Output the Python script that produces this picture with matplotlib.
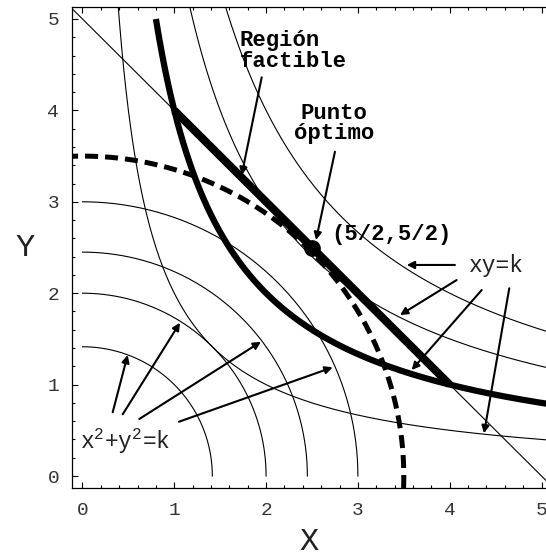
import numpy as np
import matplotlib
matplotlib.use("Agg")
import matplotlib.pyplot as plt
from matplotlib.ticker import MultipleLocator

plt.rcParams['font.family'] = ['Liberation Mono', 'DejaVu Sans']
plt.rcParams['mathtext.fontset'] = 'custom'
plt.rcParams['mathtext.rm'] = 'Liberation Mono'

# Level sets of the objective and constraint curves
hyper_thin_k = [2, 6, 8]          # xy = k, thin
hyper_thick_k = 4                 # xy = 4, boundary of feasible region
circle_thin_k = [2, 4, 6, 9]      # x^2 + y^2 = k, thin
circle_dash_k = 12.25             # dashed level circle
line_sum = 5                      # x + y = 5
segment_x = [1, 4]                # feasible edge on x + y = 5
segment_y = [4, 1]
optimum = (2.5, 2.5)

x_ticks = [0, 1, 2, 3, 4, 5]
y_ticks = [0, 1, 2, 3, 4, 5]

fig = plt.figure(figsize=(5.46, 5.57), dpi=100)
ax = fig.add_axes([0.1313, 0.1244, 0.8687, 0.8625])
xlim = (-0.1176, 5.049)
ylim = (-0.128, 5.128)

# thin hyperbolas xy = k
for k in hyper_thin_k:
    xs = np.linspace(k / 5.3, 5.2, 400)
    ax.plot(xs, k / xs, color='black', lw=0.8)

# thin line x + y = 5
xs = np.linspace(-0.3, 5.3, 10)
ax.plot(xs, line_sum - xs, color='black', lw=0.8)

# thin circles (first quadrant arcs)
for k in circle_thin_k:
    t = np.linspace(0, np.pi / 2, 200)
    r = np.sqrt(k)
    ax.plot(r * np.cos(t), r * np.sin(t), color='black', lw=0.8)

# dashed circle
t = np.linspace(-0.1, np.pi / 2 + 0.1, 300)
r = np.sqrt(circle_dash_k)
ax.plot(r * np.cos(t), r * np.sin(t), color='black', lw=3.6,
        linestyle=(0, (2.6, 1.4)))

# thick boundary of the feasible region
xs = np.linspace(hyper_thick_k / 5.0, 5.2, 400)
ax.plot(xs, hyper_thick_k / xs, color='black', lw=4.5, solid_capstyle='butt')
ax.plot(segment_x, segment_y, color='black', lw=5.8, solid_capstyle='butt')

# optimum point
ax.plot([optimum[0]], [optimum[1]], 'o', color='black', ms=11)

arrow_kw = dict(arrowstyle='-|>', color='black', lw=1.5,
                shrinkA=0, shrinkB=0, mutation_scale=11)

def arrow(start, end):
    ax.annotate('', xy=end, xytext=start, arrowprops=arrow_kw)

# annotations
ax.text(1.708, 4.77, 'Región', fontsize=16, fontweight='bold', ha='left', va='center')
ax.text(1.708, 4.53, 'factible', fontsize=16, fontweight='bold', ha='left', va='center')
arrow((1.952, 4.362), (1.734, 3.293))

ax.text(2.74, 3.97, 'Punto', fontsize=16, fontweight='bold', ha='center', va='center')
ax.text(2.74, 3.75, 'óptimo', fontsize=16, fontweight='bold', ha='center', va='center')
arrow((2.75, 3.548), (2.544, 2.582))

ax.text(3.36, 2.637, '(5/2,5/2)', fontsize=16, fontweight='bold', ha='center', va='center')

ax.text(4.504, 2.30, 'xy=k', fontsize=16.5, ha='center', va='center', color='#222222')
arrow((4.057, 2.309), (3.532, 2.309))
arrow((4.076, 2.144), (3.459, 1.761))
arrow((4.349, 2.035), (3.586, 1.160))
arrow((4.649, 2.054), (4.374, 0.467))

ax.text(-0.027, 0.30, r'x$^\mathregular{2}$+y$^\mathregular{2}$=k', fontsize=16.5,
        ha='left', va='baseline', color='#222222')
arrow((0.329, 0.697), (0.492, 1.324))
arrow((0.438, 0.675), (1.062, 1.677))
arrow((0.619, 0.624), (1.944, 1.469))
arrow((1.051, 0.594), (2.725, 1.189))

ax.set_xlim(*xlim)
ax.set_ylim(*ylim)
ax.set_xticks(x_ticks)
ax.set_yticks(y_ticks)
ax.xaxis.set_minor_locator(MultipleLocator(0.2))
ax.yaxis.set_minor_locator(MultipleLocator(0.2))
ax.tick_params(which='both', direction='in', top=True, right=False, width=0.8)
ax.tick_params(which='major', length=4, labelsize=14, labelcolor='#333333')
ax.tick_params(axis='x', which='major', pad=10)
ax.tick_params(axis='y', which='major', pad=9)
ax.tick_params(which='minor', length=2.5)
ax.spines['right'].set_visible(False)
for s in ['left', 'bottom', 'top']:
    ax.spines[s].set_linewidth(0.9)

ax.set_xlabel('X', fontsize=23, labelpad=6, color='#222222')
ax.set_ylabel('Y', fontsize=23, rotation=0, labelpad=16, va='center', color='#222222')

fig.savefig('out.png', dpi=100)
